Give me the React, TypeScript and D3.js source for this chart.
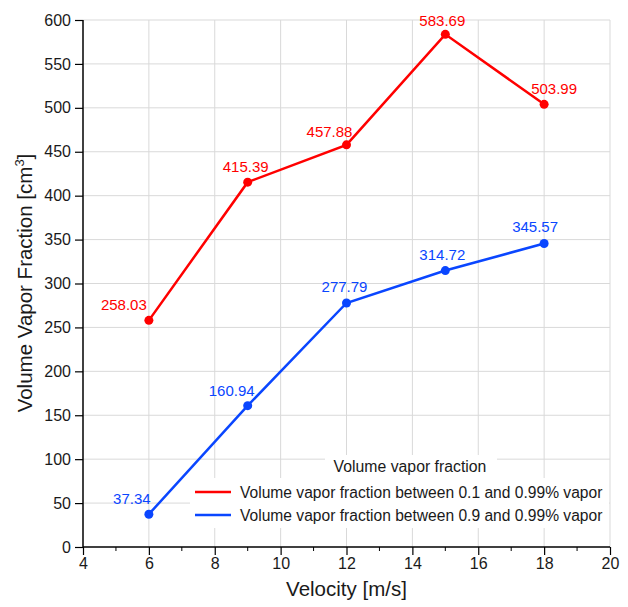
import React, { useEffect, useRef } from "react";
import * as d3 from "d3";

// velocities [m/s]
const velocity = [6, 9, 12, 15, 18];
// volume vapor fraction [cm3]
const redValues = [258.03, 415.39, 457.88, 583.69, 503.99];
const blueValues = [37.34, 160.94, 277.79, 314.72, 345.57];
const seriesNames = [
  "Volume vapor fraction between 0.1 and 0.99% vapor",
  "Volume vapor fraction between 0.9 and 0.99% vapor",
];
const legendTitle = "Volume vapor fraction";
const xTicks = [4, 6, 8, 10, 12, 14, 16, 18, 20];
const yTicks = [0, 50, 100, 150, 200, 250, 300, 350, 400, 450, 500, 550, 600];

// label nudges (px) relative to each point
const redOffsets = [[-25, -10], [-2, -10], [-17, -8], [-3, -8], [10, -10]];
const blueOffsets = [[-17, -10], [-16, -10], [-2, -11], [-3, -11], [-9, -11]];

export default function App() {
  const ref = useRef<SVGSVGElement>(null);

  useEffect(() => {
    const width = 628, height = 607;
    const left = 83, right = 610, top = 20, bottom = 547;
    const font = "'Liberation Sans', Arial, sans-serif";

    const svg = d3.select(ref.current);
    svg.selectAll("*").remove();

    const x = d3.scaleLinear().domain([4, 20]).range([left, right]);
    const y = d3.scaleLinear().domain([0, 600]).range([bottom, top]);

    // grid
    const grid = svg.append("g").attr("stroke", "#d9d9d9").attr("stroke-width", 1);
    grid.selectAll("line.v")
      .data(xTicks.slice(1))
      .enter().append("line")
      .attr("x1", d => x(d)).attr("x2", d => x(d))
      .attr("y1", top).attr("y2", bottom);
    grid.selectAll("line.h")
      .data(yTicks.slice(1))
      .enter().append("line")
      .attr("x1", left).attr("x2", right)
      .attr("y1", d => y(d)).attr("y2", d => y(d));

    // legend backgrounds (hide grid behind)
    svg.append("rect").attr("x", 325).attr("y", 455).attr("width", 172).attr("height", 23).attr("fill", "white");
    svg.append("rect").attr("x", 190).attr("y", 478).attr("width", 419).attr("height", 50).attr("fill", "white");

    // axes
    const xAxis = svg.append("g").attr("transform", `translate(0,${bottom})`)
      .call(d3.axisBottom(x).tickValues(xTicks).tickSize(8).tickPadding(3).tickFormat(d3.format("d")));
    xAxis.append("g").selectAll("line")
      .data(d3.range(5, 20, 2))
      .enter().append("line")
      .attr("x1", d => x(d)).attr("x2", d => x(d))
      .attr("y1", 0).attr("y2", 4).attr("stroke", "#000");
    const yAxis = svg.append("g").attr("transform", `translate(${left},0)`)
      .call(d3.axisLeft(y).tickValues(yTicks).tickSize(8).tickPadding(4).tickFormat(d3.format("d")));
    [xAxis, yAxis].forEach(a => {
      a.select(".domain").attr("stroke", "#000").attr("stroke-width", 1.5);
      a.selectAll(".tick line").attr("stroke", "#000").attr("stroke-width", 1.2);
      a.selectAll("text").attr("font-family", font).attr("font-size", 16).attr("fill", "#1a1a1a");
    });
    xAxis.select(".domain").attr("d", `M${left},0H${right}`);
    yAxis.select(".domain").attr("d", `M0,${bottom}V${top}`);

    // titles
    svg.append("text").attr("x", (left + right) / 2).attr("y", 596)
      .attr("text-anchor", "middle").attr("font-family", font).attr("font-size", 20.5)
      .attr("fill", "#1a1a1a").text("Velocity [m/s]");
    const yt = svg.append("text").attr("transform", `translate(32,283) rotate(-90)`)
      .attr("text-anchor", "middle").attr("font-family", font).attr("font-size", 20.5)
      .attr("fill", "#1a1a1a");
    yt.append("tspan").text("Volume Vapor Fraction [cm");
    yt.append("tspan").attr("font-size", 13).attr("dy", -8).text("3");
    yt.append("tspan").attr("dy", 8).text("]");

    const series = [
      { values: redValues, color: "#ff0000", offsets: redOffsets },
      { values: blueValues, color: "#0a46ff", offsets: blueOffsets },
    ];
    const line = d3.line<number>().x((_, i) => x(velocity[i])).y(d => y(d));

    series.forEach(s => {
      svg.append("path").datum(s.values).attr("d", line)
        .attr("fill", "none").attr("stroke", s.color).attr("stroke-width", 2.5);
      svg.append("g").selectAll("circle").data(s.values).enter().append("circle")
        .attr("cx", (_, i) => x(velocity[i])).attr("cy", d => y(d))
        .attr("r", 4.5).attr("fill", s.color);
      svg.append("g").selectAll("text").data(s.values).enter().append("text")
        .attr("x", (_, i) => x(velocity[i]) + s.offsets[i][0])
        .attr("y", (d, i) => y(d) + s.offsets[i][1])
        .attr("text-anchor", "middle").attr("font-family", font).attr("font-size", 15)
        .attr("fill", s.color).text(d => d.toFixed(2));
    });

    // legend
    svg.append("text").attr("x", 410).attr("y", 472).attr("text-anchor", "middle")
      .attr("font-family", font).attr("font-size", 15.8).attr("fill", "#1a1a1a").text(legendTitle);
    const leg = svg.append("g").selectAll("g").data(seriesNames).enter().append("g")
      .attr("transform", (_, i) => `translate(0,${492 + i * 23})`);
    leg.append("line").attr("x1", 195).attr("x2", 231).attr("y1", 0).attr("y2", 0)
      .attr("stroke", (_, i) => series[i].color).attr("stroke-width", 2.5);
    leg.append("text").attr("x", 240).attr("y", 5.5)
      .attr("font-family", font).attr("font-size", 15.6).attr("fill", "#1a1a1a").text(d => d);

    svg.attr("width", width).attr("height", height);
  }, []);

  return (
    <svg ref={ref} width={628} height={607}
      style={{ position: "absolute", left: 0, top: 0, background: "white" }} />
  );
}
